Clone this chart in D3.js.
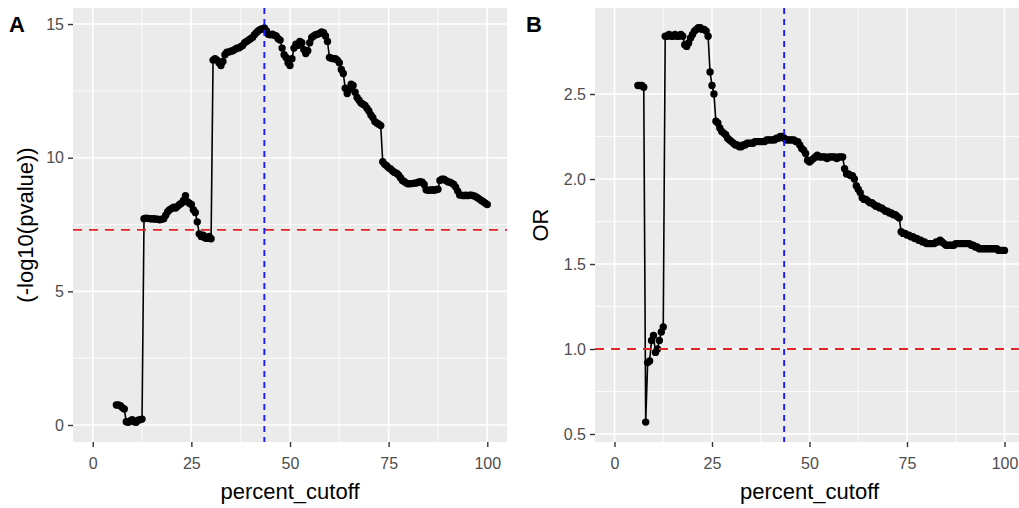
<!DOCTYPE html>
<html><head><meta charset="utf-8">
<script src="https://cdn.jsdelivr.net/npm/d3@7"></script>
<style>body{margin:0;background:#fff}svg{display:block;font-family:"Liberation Sans",Arial,sans-serif}</style>
</head><body><svg id="c" width="1019" height="508"></svg>
<script>
const percentCutoff = [
6,6.5,7,7.5,8,8.5,9,9.5,10,10.5,
11,11.5,12,12.5,13,13.5,14,14.5,15,15.5,
16,16.5,17,17.5,18,18.5,19,19.5,20,20.5,
21,21.5,22,22.5,23,23.5,24,24.5,25,25.5,
26,26.5,27,27.5,28,28.5,29,29.5,30,30.5,
31,31.5,32,32.5,33,33.5,34,34.5,35,35.5,
36,36.5,37,37.5,38,38.5,39,39.5,40,40.5,
41,41.5,42,42.5,43,43.5,44,44.5,45,45.5,
46,46.5,47,47.5,48,48.5,49,49.5,50,50.5,
51,51.5,52,52.5,53,53.5,54,54.5,55,55.5,
56,56.5,57,57.5,58,58.5,59,59.5,60,60.5,
61,61.5,62,62.5,63,63.5,64,64.5,65,65.5,
66,66.5,67,67.5,68,68.5,69,69.5,70,70.5,
71,71.5,72,72.5,73,73.5,74,74.5,75,75.5,
76,76.5,77,77.5,78,78.5,79,79.5,80,80.5,
81,81.5,82,82.5,83,83.5,84,84.5,85,85.5,
86,86.5,87,87.5,88,88.5,89,89.5,90,90.5,
91,91.5,92,92.5,93,93.5,94,94.5,95,95.5,
96,96.5,97,97.5,98,98.5,99,99.5,100];

const negLog10P = [
0.75,0.75,0.72,0.65,0.6,0.12,0.1,0.15,0.2,0.12,
0.1,0.18,0.2,0.22,7.72,7.74,7.73,7.72,7.71,7.72,
7.7,7.7,7.68,7.7,7.72,7.85,7.98,8.05,8.1,8.15,
8.12,8.18,8.25,8.3,8.4,8.58,8.35,8.3,8.25,8.05,
7.95,7.6,7.15,7.05,7.1,7.0,6.98,7.05,6.97,13.65,
13.7,13.65,13.55,13.45,13.6,13.85,13.95,13.95,13.98,14.0,
14.05,14.1,14.1,14.15,14.2,14.3,14.35,14.4,14.45,14.5,
14.6,14.68,14.75,14.8,14.83,14.85,14.75,14.62,14.6,14.62,
14.58,14.55,14.45,14.4,14.1,13.85,13.75,13.55,13.45,13.7,
14.1,14.25,14.2,14.35,14.3,14.05,13.9,14.0,14.3,14.5,
14.55,14.6,14.62,14.65,14.7,14.68,14.55,14.35,13.75,13.72,
13.7,13.7,13.65,13.55,13.3,13.15,12.6,12.4,12.55,12.75,
12.7,12.45,12.25,12.15,12.05,12.0,11.95,11.85,11.75,11.6,
11.5,11.35,11.3,11.25,11.2,9.85,9.75,9.7,9.62,9.58,
9.5,9.45,9.42,9.35,9.25,9.15,9.1,9.05,9.02,9.03,
9.03,9.05,9.05,9.08,9.1,9.08,9.0,8.8,8.78,8.78,
8.8,8.78,8.8,8.82,9.15,9.2,9.2,9.15,9.1,9.08,
9.05,9.0,8.9,8.75,8.6,8.6,8.58,8.6,8.58,8.6,
8.6,8.58,8.55,8.5,8.45,8.4,8.35,8.3,8.25];

const oddsRatio = [
2.55,2.55,2.55,2.54,0.57,0.92,0.93,1.05,1.08,0.98,
1.0,1.05,1.1,1.13,2.84,2.84,2.85,2.84,2.84,2.85,
2.84,2.84,2.85,2.84,2.79,2.78,2.8,2.83,2.85,2.87,
2.88,2.89,2.89,2.88,2.88,2.87,2.84,2.63,2.55,2.5,
2.34,2.33,2.3,2.28,2.27,2.26,2.24,2.23,2.22,2.21,
2.2,2.2,2.19,2.19,2.2,2.2,2.21,2.21,2.21,2.21,
2.22,2.22,2.22,2.22,2.22,2.22,2.23,2.23,2.23,2.23,
2.23,2.24,2.24,2.25,2.25,2.24,2.23,2.23,2.23,2.23,
2.23,2.22,2.22,2.2,2.18,2.17,2.15,2.11,2.1,2.11,
2.12,2.13,2.14,2.13,2.13,2.13,2.13,2.12,2.13,2.13,
2.13,2.13,2.12,2.13,2.13,2.13,2.06,2.03,2.03,2.02,
2.02,2.0,1.96,1.94,1.92,1.89,1.88,1.88,1.87,1.86,
1.86,1.85,1.84,1.84,1.83,1.83,1.82,1.81,1.81,1.8,
1.8,1.79,1.79,1.78,1.77,1.69,1.68,1.68,1.67,1.67,
1.66,1.66,1.65,1.65,1.64,1.64,1.63,1.63,1.62,1.62,
1.62,1.62,1.62,1.63,1.63,1.64,1.63,1.62,1.61,1.61,
1.61,1.61,1.61,1.62,1.62,1.62,1.62,1.62,1.62,1.62,
1.62,1.61,1.61,1.6,1.6,1.59,1.59,1.59,1.59,1.59,
1.59,1.59,1.59,1.59,1.59,1.58,1.58,1.58,1.58];

const xTicks = [0, 25, 50, 75, 100];
const yTicksA = [0, 5, 10, 15];
const yTicksB = [0.5, 1.0, 1.5, 2.0, 2.5];
const bestCutoff = 43.5;
const pThreshold = 7.3;
const orThreshold = 1.0;

const svg = d3.select("#c");
const FONT = '"Liberation Sans",Arial,sans-serif';

function panel(opts) {
  const {left, right, top, bottom, xDomain, yDomain, xT, yT, yFmt, values, hline, tag, tagX, ytitle, ytitleX} = opts;
  const x = d3.scaleLinear().domain(xDomain).range([left, right]);
  const y = d3.scaleLinear().domain(yDomain).range([bottom, top]);
  const g = svg.append("g");
  const clipId = "clip" + tag;
  svg.append("clipPath").attr("id", clipId).append("rect")
    .attr("x", left).attr("y", top).attr("width", right - left).attr("height", bottom - top);
  g.append("rect").attr("x", left).attr("y", top).attr("width", right - left).attr("height", bottom - top).attr("fill", "#ebebeb");
  const gg = g.append("g").attr("clip-path", `url(#${clipId})`);
  const xMinor = d3.pairs(xT).map(p => (p[0] + p[1]) / 2);
  const yMinor = d3.pairs(yT).map(p => (p[0] + p[1]) / 2);
  gg.selectAll(".xm").data(xMinor).join("line").attr("x1", d => x(d)).attr("x2", d => x(d))
    .attr("y1", top).attr("y2", bottom).attr("stroke", "#fff").attr("stroke-width", 0.8);
  gg.selectAll(".ym").data(yMinor).join("line").attr("y1", d => y(d)).attr("y2", d => y(d))
    .attr("x1", left).attr("x2", right).attr("stroke", "#fff").attr("stroke-width", 0.8);
  gg.selectAll(".xM").data(xT).join("line").attr("x1", d => x(d)).attr("x2", d => x(d))
    .attr("y1", top).attr("y2", bottom).attr("stroke", "#fff").attr("stroke-width", 1.6);
  gg.selectAll(".yM").data(yT).join("line").attr("y1", d => y(d)).attr("y2", d => y(d))
    .attr("x1", left).attr("x2", right).attr("stroke", "#fff").attr("stroke-width", 1.6);

  const pts = percentCutoff.map((c, i) => [c, values[i]]);
  gg.append("path").datum(pts).attr("d", d3.line().x(d => x(d[0])).y(d => y(d[1])))
    .attr("fill", "none").attr("stroke", "#000").attr("stroke-width", 1.6);
  gg.selectAll(".pt").data(pts).join("circle").attr("cx", d => x(d[0])).attr("cy", d => y(d[1]))
    .attr("r", 3.7).attr("fill", "#000");

  gg.append("line").attr("x1", left).attr("x2", right).attr("y1", y(hline)).attr("y2", y(hline))
    .attr("stroke", "#e8242a").attr("stroke-width", 1.9).attr("stroke-dasharray", "9,7");
  gg.append("line").attr("x1", x(bestCutoff)).attr("x2", x(bestCutoff)).attr("y1", top).attr("y2", bottom)
    .attr("stroke", "#1a1aff").attr("stroke-width", 1.9).attr("stroke-dasharray", "6,5");

  const xa = g.append("g").attr("transform", `translate(0,${bottom})`)
    .call(d3.axisBottom(x).tickValues(xT).tickSize(5).tickPadding(11).tickFormat(d3.format("d")));
  const ya = g.append("g").attr("transform", `translate(${left},0)`)
    .call(d3.axisLeft(y).tickValues(yT).tickSize(5).tickPadding(4).tickFormat(yFmt));
  [xa, ya].forEach(a => {
    a.select(".domain").remove();
    a.selectAll(".tick line").attr("stroke", "#333").attr("stroke-width", 1.4);
    a.selectAll(".tick text").attr("fill", "#4d4d4d").style("font-size", "16px").style("font-family", FONT);
  });

  g.append("text").attr("x", (x(0) + x(100)) / 2).attr("y", 499).attr("text-anchor", "middle")
    .style("font-size", "22px").attr("fill", "#000").text("percent_cutoff");
  g.append("text").attr("transform", `translate(${ytitleX},${(top + bottom) / 2}) rotate(-90)`)
    .attr("text-anchor", "middle").style("font-size", "22px").attr("fill", "#000").text(ytitle);
  g.append("text").attr("x", tagX).attr("y", 32).style("font-size", "22px").style("font-weight", "bold")
    .attr("fill", "#000").text(tag);
}

panel({left: 73, right: 507, top: 8, bottom: 442, xDomain: [-5, 105], yDomain: [-0.636, 15.6],
  xT: xTicks, yT: yTicksA, yFmt: d3.format("d"), values: negLog10P, hline: pThreshold,
  tag: "A", tagX: 9, ytitle: "(-log10(pvalue))", ytitleX: 33});
panel({left: 595, right: 1024, top: 8, bottom: 442, xDomain: [-5, 105], yDomain: [0.453, 3.006],
  xT: xTicks, yT: yTicksB, yFmt: d3.format(".1f"), values: oddsRatio, hline: orThreshold,
  tag: "B", tagX: 526, ytitle: "OR", ytitleX: 548});
</script></body></html>
